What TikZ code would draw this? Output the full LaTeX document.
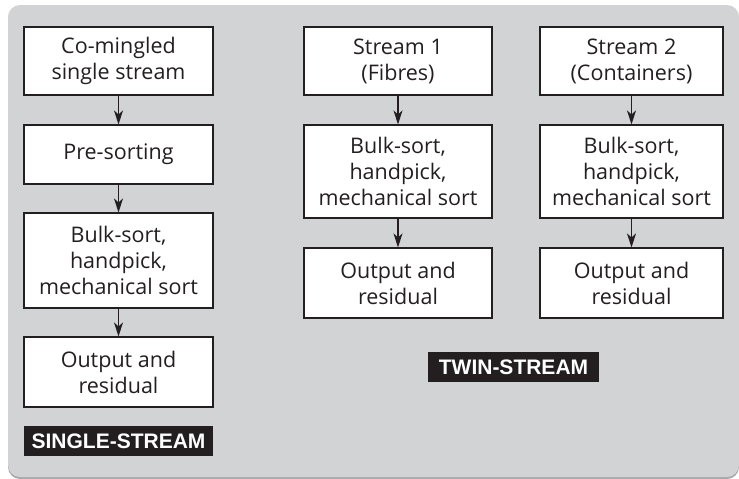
\documentclass[tikz,border=0pt]{standalone}
\usepackage{fontspec}
\setmainfont{Open Sans}
\newfontfamily\tagfont{Liberation Sans}
\usetikzlibrary{arrows.meta}
\definecolor{panel}{HTML}{D1D3D4}
\definecolor{rim}{HTML}{A7A9AC}
\definecolor{ink}{HTML}{231F20}

\begin{document}
\begin{tikzpicture}[x=1pt, y=1pt,
	box/.style={draw=ink, fill=white, line width=1.1pt, text=ink, align=center, inner sep=0pt, font=\fontsize{21.5}{26}\selectfont},
	tag/.style={fill=ink, text=white, inner sep=0pt, minimum height=30pt, font=\tagfont\bfseries\fontsize{21}{26}\selectfont},
	feed/.style={-{Stealth[length=14pt, width=9pt, inset=4pt]}, draw=ink, line width=1.6pt}]
	\useasboundingbox (0,0) rectangle (739,-479);
	% grey panel
	\fill[rim, rounded corners=12pt] (8,-7) rectangle (739,-479);
	\fill[panel, rounded corners=12pt] (8,-5) rectangle (739,-477);
	% single-stream column
	\def\sx{118.5}
	\node[box, minimum width=189pt, minimum height=68pt] (ss1) at (\sx,-61) {Co-mingled\\single stream};
	\node[box, minimum width=189pt, minimum height=59pt] (ss2) at (\sx,-154.5) {Pre-sorting};
	\node[box, minimum width=189pt, minimum height=95pt] (ss3) at (\sx,-260.5) {Bulk-sort,\\handpick,\\mechanical sort};
	\node[box, minimum width=189pt, minimum height=70pt] (ss4) at (\sx,-372) {Output and\\residual};
	\node[tag, minimum width=189pt] (single) at (\sx,-441) {SINGLE-STREAM};
	% twin-stream columns
	\def\fx{398}
	\def\cx{631.5}
	\node[box, minimum width=188pt, minimum height=68pt] (fb1) at (\fx,-61) {Stream 1\\(Fibres)};
	\node[box, minimum width=188pt, minimum height=93pt] (fb2) at (\fx,-171.5) {Bulk-sort,\\handpick,\\mechanical sort};
	\node[box, minimum width=188pt, minimum height=70pt] (fb3) at (\fx,-283) {Output and\\residual};
	\node[box, minimum width=183pt, minimum height=68pt] (ct1) at (\cx,-61) {Stream 2\\(Containers)};
	\node[box, minimum width=183pt, minimum height=93pt] (ct2) at (\cx,-171.5) {Bulk-sort,\\handpick,\\mechanical sort};
	\node[box, minimum width=183pt, minimum height=70pt] (ct3) at (\cx,-283) {Output and\\residual};
	\node[tag, minimum width=171pt] (twin) at (513.5,-367) {TWIN-STREAM};
	% arrows
	\foreach \a/\b in {ss1/ss2, ss2/ss3, ss3/ss4, fb1/fb2, fb2/fb3, ct1/ct2, ct2/ct3}
		\draw[feed] (\a.south) -- (\b.north);
\end{tikzpicture}
\end{document}
